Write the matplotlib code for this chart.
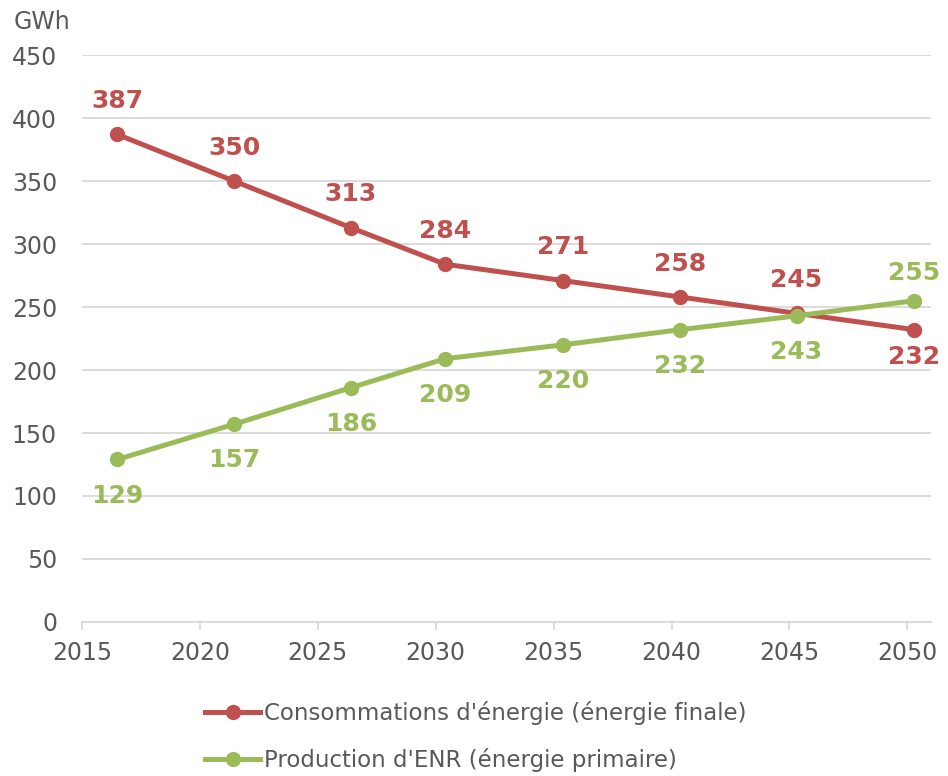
import matplotlib.pyplot as plt
from matplotlib.lines import Line2D

# x positions (points sit slightly right of the year ticks)
x_pos = [2016.5, 2021.45, 2026.4, 2030.4, 2035.4, 2040.35, 2045.3, 2050.3]
conso = [387, 350, 313, 284, 271, 258, 245, 232]
prod = [129, 157, 186, 209, 220, 232, 243, 255]
conso_label = "Consommations d'énergie (énergie finale)"
prod_label = "Production d'ENR (énergie primaire)"
x_ticks = [2015, 2020, 2025, 2030, 2035, 2040, 2045, 2050]
y_ticks = list(range(0, 451, 50))

red = '#C0504D'
green = '#9BBB59'
grey = '#595959'

plt.rcParams['font.family'] = ['DejaVu Sans']

fig = plt.figure(figsize=(9.48, 7.76), dpi=100)
ax = fig.add_axes([0.0865, 0.1985, 0.8955, 0.7305])

ax.plot(x_pos, conso, color=red, lw=3.6, marker='o', ms=10, label=conso_label, zorder=3)
ax.plot(x_pos, prod, color=green, lw=3.6, marker='o', ms=10, label=prod_label, zorder=4)

# data labels: red above, green below, swapped at the last point
for i, (x, c, p) in enumerate(zip(x_pos, conso, prod)):
    last = i == len(x_pos) - 1
    ax.annotate(str(c), (x, c), xytext=(0, -20 if last else 24), textcoords='offset points',
                ha='center', va='center', color=red, fontsize=18, fontweight='bold')
    ax.annotate(str(p), (x, p), xytext=(0, 20 if last else -26), textcoords='offset points',
                ha='center', va='center', color=green, fontsize=18, fontweight='bold')

ax.set_xlim(2015, 2051)
ax.set_ylim(0, 450)
ax.set_xticks(x_ticks)
ax.set_yticks(y_ticks)
ax.grid(axis='y', color='#D9D9D9', lw=1.3)
ax.set_axisbelow(True)
for s in ['top', 'right', 'left']:
    ax.spines[s].set_visible(False)
ax.spines['bottom'].set_color('#D9D9D9')
ax.spines['bottom'].set_linewidth(1.3)
ax.tick_params(axis='x', length=6, color='#D9D9D9', width=1.3, pad=8, labelsize=17, labelcolor=grey)
ax.tick_params(axis='y', length=0, pad=18, labelsize=17, labelcolor=grey)

fig.text(0.014, 0.972, 'GWh', fontsize=17, color=grey, ha='left', va='center')

handles = [Line2D([], [], color=red, lw=3.6, marker='o', ms=10),
           Line2D([], [], color=green, lw=3.6, marker='o', ms=10)]
fig.legend(handles, [conso_label, prod_label], loc='center', bbox_to_anchor=(0.502, 0.051),
           ncol=1, frameon=False, fontsize=16.5, labelcolor=grey, handlelength=2.4,
           handletextpad=0.15, labelspacing=1.0)

fig.savefig('out.png', dpi=100)
